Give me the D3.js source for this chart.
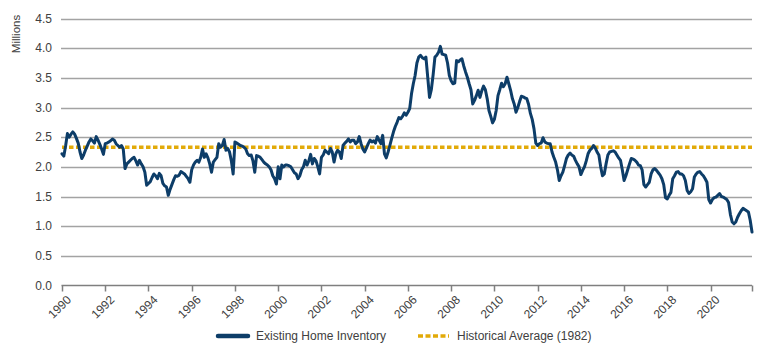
<!DOCTYPE html>
<html>
<head>
<meta charset="utf-8">
<script src="https://cdn.jsdelivr.net/npm/d3@7"></script>
<style>
  body { margin: 0; background: #fff; }
  svg text { font-family: "Liberation Sans", Arial, sans-serif; fill: #404040; }
</style>
</head>
<body>
<svg id="chart" width="770" height="351"></svg>
<script>
// Existing home inventory (millions), monthly Jan..Dec, 1990-2021
const years = d3.range(1990, 2022);
const inv1990s = [
  [2.22,2.18,2.35,2.56,2.50,2.55,2.59,2.55,2.48,2.40,2.25,2.14],
  [2.20,2.28,2.35,2.42,2.47,2.44,2.40,2.51,2.45,2.38,2.30,2.21],
  [2.39,2.40,2.42,2.44,2.47,2.45,2.39,2.36,2.33,2.36,2.30,1.97],
  [2.05,2.08,2.11,2.14,2.16,2.10,2.03,2.11,2.05,2.00,1.91,1.69],
  [1.72,1.75,1.82,1.88,1.85,1.80,1.89,1.85,1.72,1.68,1.66,1.52],
  [1.62,1.70,1.78,1.85,1.84,1.86,1.92,1.90,1.88,1.84,1.80,1.74],
  [1.95,2.03,2.08,2.11,2.08,2.16,2.30,2.16,2.22,2.15,2.05,1.91],
  [2.08,2.12,2.16,2.39,2.33,2.36,2.46,2.28,2.31,2.25,2.10,1.88],
  [2.42,2.40,2.38,2.36,2.35,2.33,2.30,2.22,2.19,2.20,2.10,1.91],
  [2.19,2.18,2.16,2.12,2.08,2.05,2.03,2.00,1.95,1.85,1.80,1.71]
];
const inv2000s = [
  [2.00,1.80,2.03,2.00,2.03,2.03,2.02,2.00,1.95,1.90,1.88,1.80],
  [1.85,1.95,2.00,2.11,2.03,2.10,2.21,2.05,2.14,2.10,2.00,1.88],
  [2.16,2.20,2.28,2.25,2.22,2.31,2.25,2.08,2.22,2.28,2.25,2.14],
  [2.36,2.40,2.43,2.47,2.42,2.45,2.45,2.39,2.42,2.51,2.39,2.30],
  [2.25,2.32,2.39,2.45,2.42,2.44,2.40,2.51,2.45,2.39,2.53,2.22],
  [2.15,2.25,2.36,2.48,2.59,2.68,2.75,2.83,2.81,2.85,2.91,2.87],
  [2.92,2.98,3.23,3.40,3.54,3.75,3.85,3.88,3.84,3.82,3.85,3.51],
  [3.17,3.30,3.55,3.85,3.88,3.93,4.03,3.90,3.89,3.88,3.75,3.54],
  [3.45,3.40,3.41,3.79,3.77,3.80,3.82,3.70,3.60,3.51,3.40,3.30],
  [3.06,3.12,3.20,3.29,3.17,3.28,3.36,3.30,3.15,2.95,2.85,2.74]
];
const inv2010s = [
  [2.80,2.95,3.20,3.30,3.41,3.35,3.40,3.51,3.40,3.29,3.15,3.06],
  [2.92,3.00,3.10,3.19,3.18,3.16,3.15,3.05,2.90,2.80,2.64,2.40],
  [2.36,2.39,2.40,2.49,2.42,2.40,2.39,2.39,2.25,2.16,2.08,1.95],
  [1.77,1.85,1.91,2.02,2.14,2.20,2.23,2.20,2.18,2.11,2.05,2.00],
  [1.87,1.94,2.00,2.10,2.22,2.28,2.31,2.36,2.32,2.25,2.20,2.00],
  [1.85,1.88,2.05,2.20,2.25,2.26,2.27,2.25,2.20,2.15,2.11,1.95],
  [1.77,1.85,1.95,2.05,2.14,2.13,2.11,2.08,2.03,2.02,1.95,1.70],
  [1.66,1.70,1.74,1.88,1.95,1.97,1.94,1.90,1.86,1.80,1.70,1.48],
  [1.46,1.52,1.57,1.80,1.85,1.91,1.92,1.88,1.88,1.85,1.77,1.60],
  [1.55,1.58,1.63,1.83,1.88,1.91,1.92,1.88,1.85,1.80,1.74,1.45]
];
const inv2020s = [
  [1.39,1.45,1.48,1.49,1.52,1.55,1.50,1.49,1.47,1.45,1.40,1.20],
  [1.07,1.04,1.07,1.15,1.21,1.26,1.30,1.28,1.26,1.24,1.10,0.90]
];
const historicalAverage = 2.33;
const yTicks = [0, 0.5, 1, 1.5, 2, 2.5, 3, 3.5, 4, 4.5];
const xTickYears = d3.range(1990, 2021, 2);
const seriesNames = ["Existing Home Inventory", "Historical Average (1982)"];

const monthly = [].concat(...inv1990s, ...inv2000s, ...inv2010s, ...inv2020s);
const data = monthly.map((v, i) => ({ t: 1990 + i / 12, v }));
const tEnd = 1990 + (monthly.length - 1) / 12;

const svg = d3.select("#chart");
const x = d3.scaleLinear().domain([1990, tEnd]).range([62, 752]);
const y = d3.scaleLinear().domain([0, 4.5]).range([285.5, 18.5]);

const navy = "#0d3d68";
const gold = "#e2aa08";

// gridlines
svg.append("g").selectAll("line").data(yTicks.filter(d => d > 0)).join("line")
  .attr("x1", 61).attr("x2", 752)
  .attr("y1", d => Math.round(y(d)) + 0.5).attr("y2", d => Math.round(y(d)) + 0.5)
  .attr("stroke", "#a3a3a3").attr("stroke-width", 1.3);

// y labels
svg.append("g").selectAll("text").data(yTicks).join("text")
  .attr("x", 52).attr("y", d => y(d)).attr("dy", "0.35em")
  .attr("text-anchor", "end").style("font-size", "12px")
  .text(d3.format(".1f"));

svg.append("text")
  .attr("transform", "translate(20,34) rotate(-90)")
  .attr("text-anchor", "middle").style("font-size", "11.5px")
  .text("Millions");

// x axis
const xAxisG = svg.append("g").attr("transform", "translate(0,285.5)");
xAxisG.append("line").attr("x1", 61.5).attr("x2", 752).attr("stroke", "#7f7f7f").attr("stroke-width", 1.5);
const tickPos = xTickYears.map(t => x(t)).concat([x.range()[1]]);
xAxisG.selectAll("line.tk").data(tickPos).join("line").attr("class", "tk")
  .attr("x1", d => Math.round(d) + 0.5).attr("x2", d => Math.round(d) + 0.5)
  .attr("y1", 0).attr("y2", 6).attr("stroke", "#7f7f7f").attr("stroke-width", 1.5);
xAxisG.selectAll("text").data(xTickYears).join("text")
  .attr("transform", d => `translate(${x(d) + 4},${9}) rotate(-45)`)
  .attr("text-anchor", "end").attr("dy", "0.7em").style("font-size", "12px")
  .text(d => d);

// historical average
svg.append("line")
  .attr("x1", x(1990)).attr("x2", x(tEnd))
  .attr("y1", y(historicalAverage)).attr("y2", y(historicalAverage))
  .attr("stroke", gold).attr("stroke-width", 3.5).attr("stroke-dasharray", "4.5,2.5");

// inventory line
const line = d3.line().x(d => x(d.t)).y(d => y(d.v));
svg.append("path").datum(data).attr("d", line)
  .attr("fill", "none").attr("stroke", navy).attr("stroke-width", 3)
  .attr("stroke-linejoin", "round").attr("stroke-linecap", "round");

// legend
const lg = svg.append("g");
lg.append("line").attr("x1", 218).attr("x2", 248).attr("y1", 336).attr("y2", 336)
  .attr("stroke", navy).attr("stroke-width", 4.5).attr("stroke-linecap", "round");
lg.append("text").attr("x", 256).attr("y", 336).attr("dy", "0.35em").style("font-size", "12px").text(seriesNames[0]);
lg.append("line").attr("x1", 418).attr("x2", 449).attr("y1", 336).attr("y2", 336)
  .attr("stroke", gold).attr("stroke-width", 3.5).attr("stroke-dasharray", "5,2.5");
lg.append("text").attr("x", 457).attr("y", 336).attr("dy", "0.35em").style("font-size", "12px").text(seriesNames[1]);
</script>
</body>
</html>
